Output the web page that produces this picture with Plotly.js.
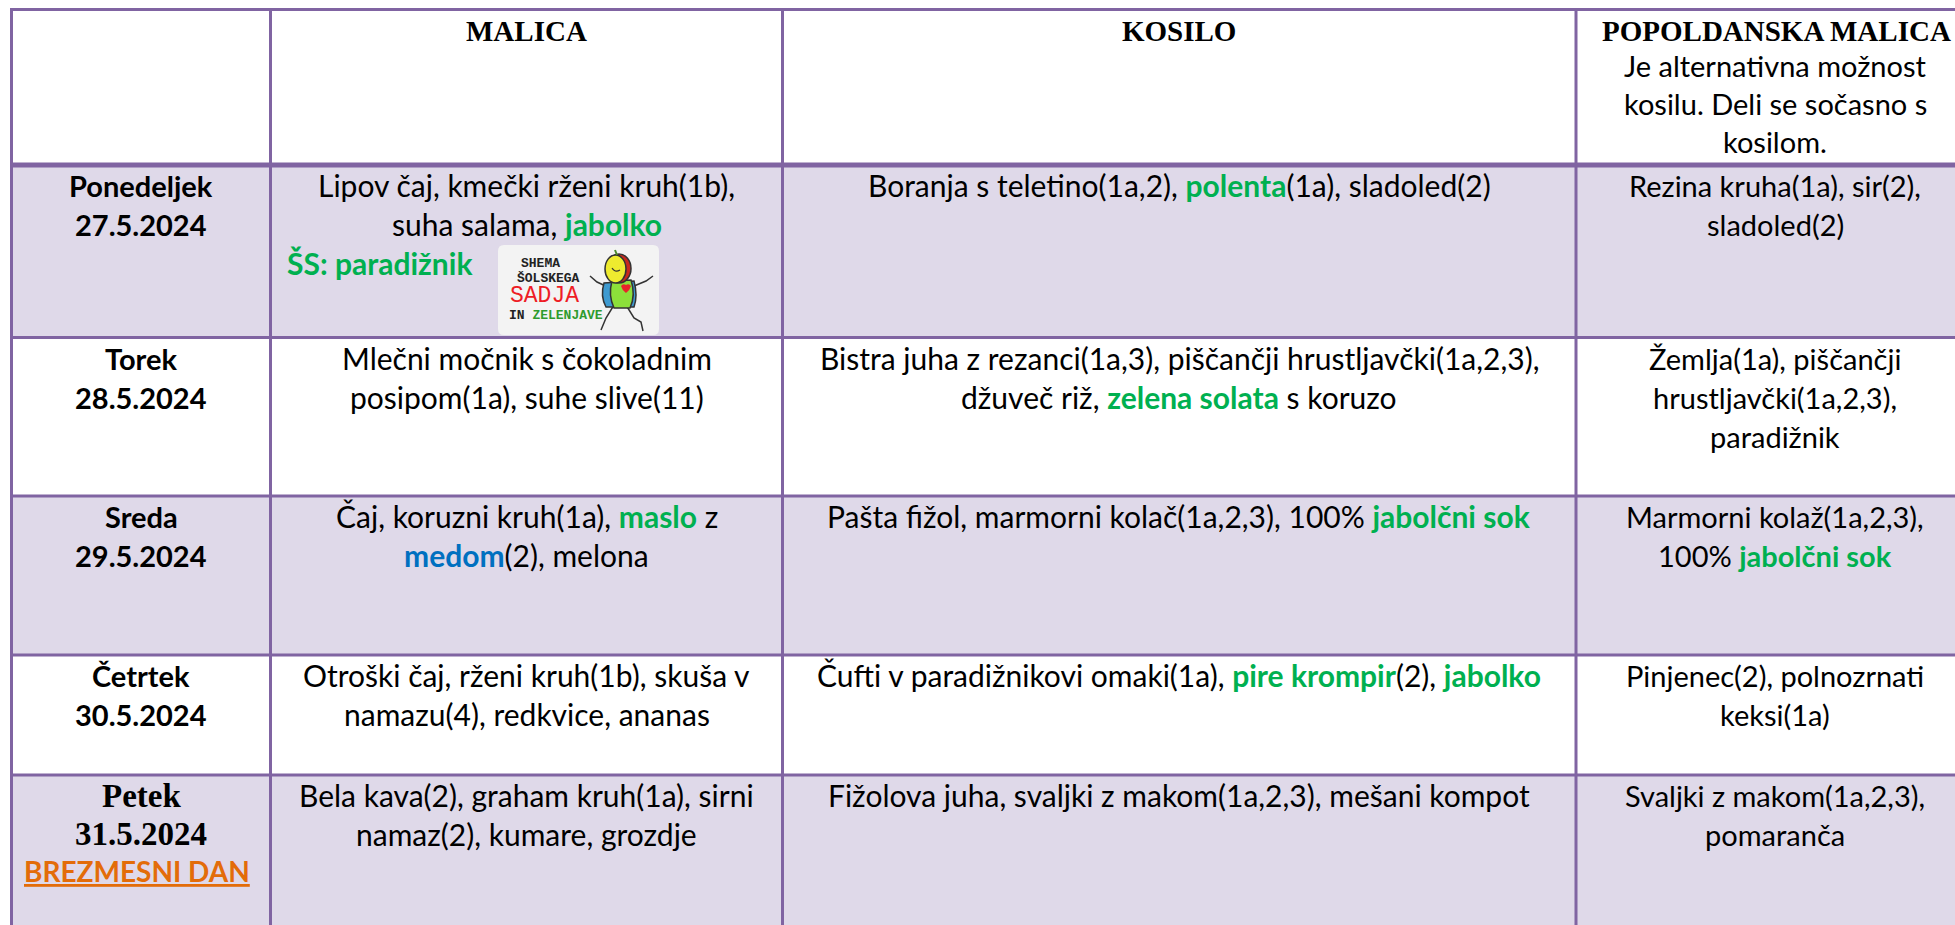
<!DOCTYPE html>
<html><head><meta charset="utf-8">
<script src="https://cdn.plot.ly/plotly-3.0.1.min.js"></script>
<style>html,body{margin:0;padding:0;background:#fff;overflow:hidden}</style>
</head><body><div id="chart" style="width:1955px;height:925px"></div>
<script>
// ---------------- DATA ----------------
const columnTitles = ['', 'MALICA', 'KOSILO', 'POPOLDANSKA MALICA'];
const headerNote = ['Je alternativna možnost', 'kosilu. Deli se sočasno s', 'kosilom.'];
const days = ['Ponedeljek', 'Torek', 'Sreda', 'Četrtek', 'Petek'];
const dates = ['27.5.2024', '28.5.2024', '29.5.2024', '30.5.2024', '31.5.2024'];
const dayNotes = ['', '', '', '', 'BREZMESNI DAN'];
// *word* = green highlight, ~word~ = blue highlight
const malica = [
  ['Lipov čaj, kmečki rženi kruh(1b),', 'suha salama, *jabolko*'],
  ['Mlečni močnik s čokoladnim', 'posipom(1a), suhe slive(11)'],
  ['Čaj, koruzni kruh(1a), *maslo* z', '~medom~(2), melona'],
  ['Otroški čaj, rženi kruh(1b), skuša v', 'namazu(4), redkvice, ananas'],
  ['Bela kava(2), graham kruh(1a), sirni', 'namaz(2), kumare, grozdje']
];
const kosilo = [
  ['Boranja s teletino(1a,2), *polenta*(1a), sladoled(2)'],
  ['Bistra juha z rezanci(1a,3), piščančji hrustljavčki(1a,2,3),', 'džuveč riž, *zelena solata* s koruzo'],
  ['Pašta fižol, marmorni kolač(1a,2,3), 100% *jabolčni sok*'],
  ['Čufti v paradižnikovi omaki(1a), *pire krompir*(2), *jabolko*'],
  ['Fižolova juha, svaljki z makom(1a,2,3), mešani kompot']
];
const popoldanska = [
  ['Rezina kruha(1a), sir(2),', 'sladoled(2)'],
  ['Žemlja(1a), piščančji', 'hrustljavčki(1a,2,3),', 'paradižnik'],
  ['Marmorni kolaž(1a,2,3),', '100% *jabolčni sok*'],
  ['Pinjenec(2), polnozrnati', 'keksi(1a)'],
  ['Svaljki z makom(1a,2,3),', 'pomaranča']
];
const schemeItem = 'ŠS: paradižnik';
const logoLines = ['SHEMA', 'ŠOLSKEGA', 'SADJA', 'IN', 'ZELENJAVE'];

// ---------------- LAYOUT / STYLE ----------------
const W = 1955, H = 925;
const xEdges = [11.5, 270.5, 782.5, 1576, 1976];
const yEdges = [9.5, 165, 337.5, 496, 655, 775, 940];
const LINE = '#8064A2', LAV = '#DFD9E9', GREEN = '#00B050', BLUE = '#0070C0', ORANGE = '#E36C09';
const SANS = 'Lato', SERIF = 'Liberation Serif', MONO = 'Liberation Mono';
const BODY = 30, RIGHT = 29, DAY = 29, HEAD = 29, PETEK = 33, NOTE = 28;
const GAP = 39, FIRST = 32;

function markup(s) {
  return s.replace(/\*([^*]+)\*/g, '<b><span style="color:' + GREEN + '">$1</span></b>')
          .replace(/~([^~]+)~/g, '<b><span style="color:' + BLUE + '">$1</span></b>');
}
const shapes = [], ann = [];
const KF = {};
KF[SANS] = 0.387; KF[SERIF] = 0.3375; KF[MONO] = 0.27;
function text(t, x, baseline, size, family, opts) {
  ann.push(Object.assign({
    text: t, x: x, y: baseline - KF[family] * size, xref: 'x', yref: 'y', showarrow: false,
    xanchor: 'center', yanchor: 'middle', borderpad: 0, font: {family: family, size: size, color: '#000'}
  }, opts || {}));
}
const colCenter = c => (xEdges[c] + xEdges[c + 1]) / 2;

// cell fills
for (let r = 0; r < days.length; r++) {
  shapes.push({type: 'rect', xref: 'x', yref: 'y', x0: xEdges[0], x1: xEdges[4],
    y0: yEdges[r + 1], y1: yEdges[r + 2], fillcolor: r % 2 === 0 ? LAV : '#FFFFFF', line: {width: 0}, layer: 'below'});
}
// grid lines
yEdges.forEach((y, i) => {
  shapes.push({type: 'line', xref: 'x', yref: 'y', x0: xEdges[0] - 1.5, x1: xEdges[4], y0: y, y1: y,
    line: {color: LINE, width: i === 1 ? 5 : 3}});
});
xEdges.forEach(x => {
  shapes.push({type: 'line', xref: 'x', yref: 'y', x0: x, x1: x, y0: yEdges[0] - 1.5, y1: yEdges[6],
    line: {color: LINE, width: 3}});
});

// header
for (let c = 1; c < 4; c++) text('<b>' + columnTitles[c] + '</b>', colCenter(c), 41, HEAD, SERIF);
headerNote.forEach((t, i) => text(t, colCenter(3) - 1, 77 + i * 38, RIGHT, SANS));

// rows
for (let r = 0; r < days.length; r++) {
  const top = yEdges[r + 1], b0 = top + FIRST;
  if (r === 4) {
    text('<b>' + days[r] + '</b>', colCenter(0), b0, PETEK, SERIF);
    text('<b>' + dates[r] + '</b>', colCenter(0), b0 + 38, PETEK, SERIF);
    text('<b><u>' + dayNotes[r] + '</u></b>', 137, b0 + 75, NOTE, SANS, {font: {family: SANS, size: NOTE, color: ORANGE}});
  } else {
    text('<b>' + days[r] + '</b>', colCenter(0), b0, DAY, SANS);
    text('<b>' + dates[r] + '</b>', colCenter(0), b0 + GAP, DAY, SANS);
  }
  malica[r].forEach((t, i) => text(markup(t), colCenter(1), b0 + i * GAP, BODY, SANS));
  kosilo[r].forEach((t, i) => text(markup(t), colCenter(2), b0 + i * GAP, BODY, SANS));
  popoldanska[r].forEach((t, i) => text(markup(t), colCenter(3) - 1, b0 + i * GAP, RIGHT, SANS));
}
// School fruit scheme line + logo (Monday)
text('<b><span style="color:' + GREEN + '">' + schemeItem + '</span></b>', 286, yEdges[1] + FIRST + 2 * GAP, BODY, SANS, {xanchor: 'left'});
const lx = 498, ly = 245;
shapes.push({type: 'path', xref: 'x', yref: 'y', fillcolor: '#F3F3F3', line: {width: 0},
  path: `M${lx+6},${ly} L${lx+155},${ly} Q${lx+161},${ly} ${lx+161},${ly+6} L${lx+161},${ly+84} Q${lx+161},${ly+90} ${lx+155},${ly+90} L${lx+6},${ly+90} Q${lx},${ly+90} ${lx},${ly+84} L${lx},${ly+6} Q${lx},${ly} ${lx+6},${ly} Z`});
text('<b>' + logoLines[0] + '</b>', 540, 267, 13, MONO, {font: {family: MONO, size: 13, color: '#222'}});
text('<b>' + logoLines[1] + '</b>', 548, 282, 13, MONO, {font: {family: MONO, size: 13, color: '#222'}});
text(logoLines[2], 544, 302, 23, MONO, {font: {family: MONO, size: 23, color: '#EE1C25'}});
text('<b>' + logoLines[3] + ' <span style="color:#2E9B2E">' + logoLines[4] + '</span></b>', 556, 319, 13, MONO, {font: {family: MONO, size: 13, color: '#222'}});
// mascot
const ink = {color: '#333', width: 1.5};
['M614,305 L606,318 L601,330', 'M626,305 L634,318 L641,322 L643,331',
 'M610,288 L597,282 L590,276', 'M634,286 L646,281 L653,276'].forEach(p =>
  shapes.push({type: 'path', xref: 'x', yref: 'y', path: p, line: ink}));
shapes.push({type: 'path', xref: 'x', yref: 'y', path: 'M604,283 Q600,296 606,307 L634,307 Q638,296 634,281 Z', fillcolor: '#3E9AD0', line: ink});
shapes.push({type: 'path', xref: 'x', yref: 'y', path: 'M612,281 Q608,295 614,308 L630,308 Q636,295 631,280 Z', fillcolor: '#8CE03A', line: ink});
shapes.push({type: 'circle', xref: 'x', yref: 'y', x0: 607, x1: 631, y0: 254, y1: 283, fillcolor: '#C8281E', line: ink});
shapes.push({type: 'circle', xref: 'x', yref: 'y', x0: 605, x1: 626, y0: 255, y1: 283, fillcolor: '#EEEB2F', line: ink});
shapes.push({type: 'path', xref: 'x', yref: 'y', path: 'M612,268 Q615,273 620,270', line: {color: '#333', width: 1.2}});
shapes.push({type: 'path', xref: 'x', yref: 'y', path: 'M626,285 Q623,283 621,286 Q622,290 626,293 Q630,290 631,286 Q629,283 626,285 Z', fillcolor: '#E8242B', line: {width: 0}});
shapes.push({type: 'path', xref: 'x', yref: 'y', path: 'M615,250 L617,255', line: {color: '#4a8a2a', width: 2}});

const layout = {
  width: W, height: H, margin: {l: 0, r: 0, t: 0, b: 0}, paper_bgcolor: '#fff', plot_bgcolor: '#fff',
  showlegend: false,
  xaxis: {range: [0, W], visible: false, fixedrange: true},
  yaxis: {range: [H, 0], visible: false, fixedrange: true},
  shapes: shapes, annotations: ann
};
Plotly.newPlot('chart', [{type: 'scatter', x: [], y: [], mode: 'markers'}], layout, {staticPlot: true, displayModeBar: false});
</script></body></html>
